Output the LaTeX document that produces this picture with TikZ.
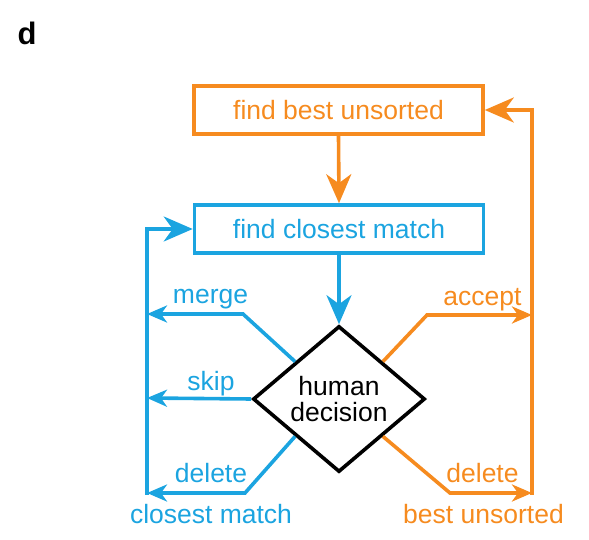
\documentclass[tikz,border=0pt]{standalone}
\usepackage{fontspec}
\setmainfont{Liberation Sans}
\usetikzlibrary{shapes.geometric,arrows.meta,calc}
\definecolor{cblue}{RGB}{27,164,224}
\definecolor{corange}{RGB}{246,139,31}
\begin{document}
\begin{tikzpicture}[x=1pt,y=-1pt,
  lbl/.style={font=\fontsize{26.5}{26}\selectfont, inner sep=0pt, anchor=base},
  boxnode/.style={draw, line width=3.6pt, minimum width=289pt, minimum height=48pt, inner sep=0pt, font=\fontsize{26.5}{26}\selectfont},
  bigconn/.style={line width=3.6pt, -{Stealth[length=29pt,width=25pt,inset=9pt]}},
  smallconn/.style={line width=3.6pt, -{Stealth[length=20pt,width=17pt,inset=6pt]}},
]
\useasboundingbox (0,0) rectangle (589,540);
\node[font=\fontsize{31}{31}\selectfont\bfseries, inner sep=0pt, anchor=base] (lab) at (27,45) {d};
\node[boxnode, draw=corange, text=corange] (top) at (338.5,110) {find best unsorted};
\node[boxnode, draw=cblue, text=cblue] (mid) at (339,229) {find closest match};
\node[draw=black, line width=3.6pt, shape=diamond, aspect=1.18, minimum width=172pt, minimum height=146pt, inner sep=0pt, align=center, font=\fontsize{26.5}{26}\selectfont] (dia) at (339,399) {human\\decision};
% coordinates
\coordinate (lb) at (147,494.8);
\coordinate (rb) at (532,494.8);
\coordinate (mergeknee) at (243,314);
\coordinate (mergeend) at (147,314);
\coordinate (skipend) at (147,398);
\coordinate (ldelknee) at (245,493);
\coordinate (ldelend) at (147,493);
\coordinate (accknee) at (427,315);
\coordinate (accend) at (532,315);
\coordinate (rdelknee) at (450,493);
\coordinate (rdelend) at (532,493);
\coordinate (ul) at ($(dia.north)!0.5!(dia.west)$);
\coordinate (ll) at ($(dia.south)!0.5!(dia.west)$);
\coordinate (ur) at ($(dia.north)!0.5!(dia.east)$);
\coordinate (lr) at ($(dia.south)!0.5!(dia.east)$);
% main arrows
\draw[bigconn, corange] (top.south) -- (mid.north);
\draw[bigconn, cblue] (mid.south) -- (dia.north);
\draw[bigconn, cblue] (lb) |- (mid.west);
\draw[bigconn, corange] (rb) |- (top.east);
% branches
\draw[smallconn, cblue, line join=miter] (ul) -- (mergeknee) -- (mergeend);
\draw[smallconn, cblue] (dia.west) -- (skipend);
\draw[smallconn, cblue, line join=miter] (ll) -- (ldelknee) -- (ldelend);
\draw[smallconn, corange, line join=miter] (ur) -- (accknee) -- (accend);
\draw[smallconn, corange, line join=miter] (lr) -- (rdelknee) -- (rdelend);
% labels
\node[lbl, text=cblue] (lmerge) at (210.5,303.5) {merge};
\node[lbl, text=cblue] (lskip) at (211,390) {skip};
\node[lbl, text=cblue] (ldel) at (211,482) {delete};
\node[lbl, text=cblue] (lcm) at (211,523) {closest match};
\node[lbl, text=corange] (lacc) at (482.5,305) {accept};
\node[lbl, text=corange] (rdel) at (482.5,482) {delete};
\node[lbl, text=corange] (lbu) at (483.5,523) {best unsorted};
\end{tikzpicture}
\end{document}
